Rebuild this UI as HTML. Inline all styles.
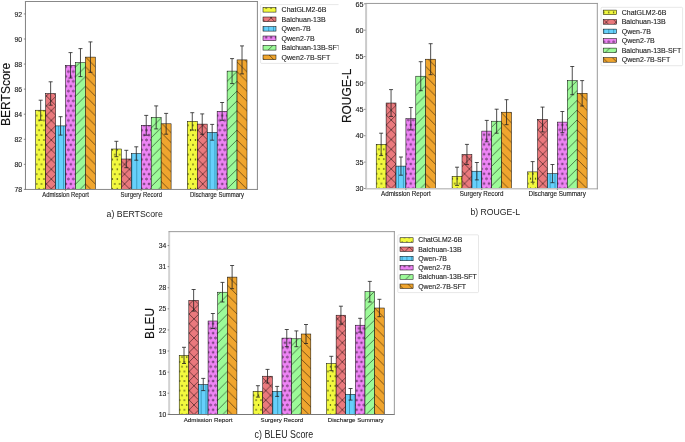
<!DOCTYPE html><html><head><meta charset="utf-8"><style>html,body{margin:0;padding:0;background:#fff;}svg{display:block;will-change:transform;}text{font-family:"Liberation Sans", sans-serif;}.s{fill:#222;stroke:#222;stroke-width:0.12px;}</style></head><body>
<svg width="685" height="442" viewBox="0 0 685 442"><defs>
<pattern id="pa0" patternUnits="userSpaceOnUse" x="46.4" y="164.4" width="4.885" height="9.77"><rect width="4.885" height="9.77" fill="#f2f93e"/><circle cx="0" cy="0" r="0.65" fill="#000"/><circle cx="4.885" cy="0" r="0.65" fill="#000"/><circle cx="0" cy="9.77" r="0.65" fill="#000"/><circle cx="4.885" cy="9.77" r="0.65" fill="#000"/><circle cx="2.442" cy="4.885" r="0.65" fill="#000"/></pattern><pattern id="pa1" patternUnits="userSpaceOnUse" x="46.4" y="164.4" width="9.77" height="9.77"><rect width="9.77" height="9.77" fill="#ea797d"/><path d="M-4.885,-4.885L14.655,14.655M-4.885,4.885L4.885,-4.885M4.885,14.655L14.655,4.885M-4.885,14.655L14.655,-4.885M-4.885,4.885L4.885,14.655M4.885,-4.885L14.655,4.885" stroke="#000" stroke-opacity="1" stroke-width="0.5"/></pattern><pattern id="pa2" patternUnits="userSpaceOnUse" x="46.4" y="164.4" width="4.885" height="4.885"><rect width="4.885" height="4.885" fill="#66d0fb"/><path d="M2.442,0V4.885" stroke="#0b5f7a" stroke-opacity="0.45" stroke-width="1.0"/></pattern><pattern id="pa3" patternUnits="userSpaceOnUse" x="46.4" y="164.4" width="4.885" height="9.77"><rect width="4.885" height="9.77" fill="#ee84f5"/><circle cx="0" cy="0" r="0.9" fill="none" stroke="#000" stroke-opacity="0.9" stroke-width="0.55"/><circle cx="4.885" cy="0" r="0.9" fill="none" stroke="#000" stroke-opacity="0.9" stroke-width="0.55"/><circle cx="0" cy="9.77" r="0.9" fill="none" stroke="#000" stroke-opacity="0.9" stroke-width="0.55"/><circle cx="4.885" cy="9.77" r="0.9" fill="none" stroke="#000" stroke-opacity="0.9" stroke-width="0.55"/><circle cx="2.442" cy="4.885" r="0.9" fill="none" stroke="#000" stroke-opacity="0.9" stroke-width="0.55"/></pattern><pattern id="pa4" patternUnits="userSpaceOnUse" x="46.4" y="164.4" width="9.77" height="9.77"><rect width="9.77" height="9.77" fill="#9cfa98"/><path d="M-4.885,4.885L4.885,-4.885M4.885,14.655L14.655,4.885M-4.885,14.655L14.655,-4.885" stroke="#000" stroke-opacity="1" stroke-width="0.5"/></pattern><pattern id="pa5" patternUnits="userSpaceOnUse" x="46.4" y="164.4" width="9.77" height="9.77"><rect width="9.77" height="9.77" fill="#f0a52e"/><path d="M-4.885,-4.885L14.655,14.655M-4.885,4.885L4.885,14.655M4.885,-4.885L14.655,4.885" stroke="#000" stroke-opacity="1" stroke-width="0.5"/></pattern>
<clipPath id="clipa"><rect x="0" y="0" width="338.5" height="230"/></clipPath>
<pattern id="pb0" patternUnits="userSpaceOnUse" x="386.3" y="164" width="4.89" height="9.78"><rect width="4.89" height="9.78" fill="#f2f93e"/><circle cx="0" cy="0" r="0.65" fill="#000"/><circle cx="4.89" cy="0" r="0.65" fill="#000"/><circle cx="0" cy="9.78" r="0.65" fill="#000"/><circle cx="4.89" cy="9.78" r="0.65" fill="#000"/><circle cx="2.445" cy="4.89" r="0.65" fill="#000"/></pattern><pattern id="pb1" patternUnits="userSpaceOnUse" x="386.3" y="164" width="9.78" height="9.78"><rect width="9.78" height="9.78" fill="#ea797d"/><path d="M-4.89,-4.89L14.67,14.67M-4.89,4.89L4.89,-4.89M4.89,14.67L14.67,4.89M-4.89,14.67L14.67,-4.89M-4.89,4.89L4.89,14.67M4.89,-4.89L14.67,4.89" stroke="#000" stroke-opacity="1" stroke-width="0.5"/></pattern><pattern id="pb2" patternUnits="userSpaceOnUse" x="386.3" y="164" width="4.89" height="4.89"><rect width="4.89" height="4.89" fill="#66d0fb"/><path d="M2.445,0V4.89" stroke="#0b5f7a" stroke-opacity="0.45" stroke-width="1.0"/></pattern><pattern id="pb3" patternUnits="userSpaceOnUse" x="386.3" y="164" width="4.89" height="9.78"><rect width="4.89" height="9.78" fill="#ee84f5"/><circle cx="0" cy="0" r="0.9" fill="none" stroke="#000" stroke-opacity="0.9" stroke-width="0.55"/><circle cx="4.89" cy="0" r="0.9" fill="none" stroke="#000" stroke-opacity="0.9" stroke-width="0.55"/><circle cx="0" cy="9.78" r="0.9" fill="none" stroke="#000" stroke-opacity="0.9" stroke-width="0.55"/><circle cx="4.89" cy="9.78" r="0.9" fill="none" stroke="#000" stroke-opacity="0.9" stroke-width="0.55"/><circle cx="2.445" cy="4.89" r="0.9" fill="none" stroke="#000" stroke-opacity="0.9" stroke-width="0.55"/></pattern><pattern id="pb4" patternUnits="userSpaceOnUse" x="386.3" y="164" width="9.78" height="9.78"><rect width="9.78" height="9.78" fill="#9cfa98"/><path d="M-4.89,4.89L4.89,-4.89M4.89,14.67L14.67,4.89M-4.89,14.67L14.67,-4.89" stroke="#000" stroke-opacity="1" stroke-width="0.5"/></pattern><pattern id="pb5" patternUnits="userSpaceOnUse" x="386.3" y="164" width="9.78" height="9.78"><rect width="9.78" height="9.78" fill="#f0a52e"/><path d="M-4.89,-4.89L14.67,14.67M-4.89,4.89L4.89,14.67M4.89,-4.89L14.67,4.89" stroke="#000" stroke-opacity="1" stroke-width="0.5"/></pattern>
<pattern id="pc0" patternUnits="userSpaceOnUse" x="189.2" y="390.6" width="4.785" height="9.57"><rect width="4.785" height="9.57" fill="#f2f93e"/><circle cx="0" cy="0" r="0.65" fill="#000"/><circle cx="4.785" cy="0" r="0.65" fill="#000"/><circle cx="0" cy="9.57" r="0.65" fill="#000"/><circle cx="4.785" cy="9.57" r="0.65" fill="#000"/><circle cx="2.393" cy="4.785" r="0.65" fill="#000"/></pattern><pattern id="pc1" patternUnits="userSpaceOnUse" x="189.2" y="390.6" width="9.57" height="9.57"><rect width="9.57" height="9.57" fill="#ea797d"/><path d="M-4.785,-4.785L14.355,14.355M-4.785,4.785L4.785,-4.785M4.785,14.355L14.355,4.785M-4.785,14.355L14.355,-4.785M-4.785,4.785L4.785,14.355M4.785,-4.785L14.355,4.785" stroke="#000" stroke-opacity="1" stroke-width="0.5"/></pattern><pattern id="pc2" patternUnits="userSpaceOnUse" x="189.2" y="390.6" width="4.785" height="4.785"><rect width="4.785" height="4.785" fill="#66d0fb"/><path d="M2.393,0V4.785" stroke="#0b5f7a" stroke-opacity="0.45" stroke-width="1.0"/></pattern><pattern id="pc3" patternUnits="userSpaceOnUse" x="189.2" y="390.6" width="4.785" height="9.57"><rect width="4.785" height="9.57" fill="#ee84f5"/><circle cx="0" cy="0" r="0.9" fill="none" stroke="#000" stroke-opacity="0.9" stroke-width="0.55"/><circle cx="4.785" cy="0" r="0.9" fill="none" stroke="#000" stroke-opacity="0.9" stroke-width="0.55"/><circle cx="0" cy="9.57" r="0.9" fill="none" stroke="#000" stroke-opacity="0.9" stroke-width="0.55"/><circle cx="4.785" cy="9.57" r="0.9" fill="none" stroke="#000" stroke-opacity="0.9" stroke-width="0.55"/><circle cx="2.393" cy="4.785" r="0.9" fill="none" stroke="#000" stroke-opacity="0.9" stroke-width="0.55"/></pattern><pattern id="pc4" patternUnits="userSpaceOnUse" x="189.2" y="390.6" width="9.57" height="9.57"><rect width="9.57" height="9.57" fill="#9cfa98"/><path d="M-4.785,4.785L4.785,-4.785M4.785,14.355L14.355,4.785M-4.785,14.355L14.355,-4.785" stroke="#000" stroke-opacity="1" stroke-width="0.5"/></pattern><pattern id="pc5" patternUnits="userSpaceOnUse" x="189.2" y="390.6" width="9.57" height="9.57"><rect width="9.57" height="9.57" fill="#f0a52e"/><path d="M-4.785,-4.785L14.355,14.355M-4.785,4.785L4.785,14.355M4.785,-4.785L14.355,4.785" stroke="#000" stroke-opacity="1" stroke-width="0.5"/></pattern>
</defs><rect width="685" height="442" fill="#fff"/>
<g id="charta" clip-path="url(#clipa)"><rect x="35.7" y="110.2" width="9.95" height="79.2" fill="url(#pa0)" stroke="#000" stroke-width="0.5"/><rect x="45.65" y="93.5" width="9.95" height="95.9" fill="url(#pa1)" stroke="#000" stroke-width="0.5"/><rect x="55.6" y="125.9" width="9.95" height="63.5" fill="url(#pa2)" stroke="#000" stroke-width="0.5"/><rect x="65.55" y="65.3" width="9.95" height="124.1" fill="url(#pa3)" stroke="#000" stroke-width="0.5"/><rect x="75.5" y="62.6" width="9.95" height="126.8" fill="url(#pa4)" stroke="#000" stroke-width="0.5"/><rect x="85.45" y="57.1" width="9.95" height="132.3" fill="url(#pa5)" stroke="#000" stroke-width="0.5"/><rect x="111.4" y="149" width="9.95" height="40.4" fill="url(#pa0)" stroke="#000" stroke-width="0.5"/><rect x="121.35" y="159" width="9.95" height="30.4" fill="url(#pa1)" stroke="#000" stroke-width="0.5"/><rect x="131.3" y="153.5" width="9.95" height="35.9" fill="url(#pa2)" stroke="#000" stroke-width="0.5"/><rect x="141.25" y="125.3" width="9.95" height="64.1" fill="url(#pa3)" stroke="#000" stroke-width="0.5"/><rect x="151.2" y="117.4" width="9.95" height="72" fill="url(#pa4)" stroke="#000" stroke-width="0.5"/><rect x="161.15" y="123.8" width="9.95" height="65.6" fill="url(#pa5)" stroke="#000" stroke-width="0.5"/><rect x="187.3" y="121.4" width="9.95" height="68" fill="url(#pa0)" stroke="#000" stroke-width="0.5"/><rect x="197.25" y="124.1" width="9.95" height="65.3" fill="url(#pa1)" stroke="#000" stroke-width="0.5"/><rect x="207.2" y="132.3" width="9.95" height="57.1" fill="url(#pa2)" stroke="#000" stroke-width="0.5"/><rect x="217.15" y="111.4" width="9.95" height="78" fill="url(#pa3)" stroke="#000" stroke-width="0.5"/><rect x="227.1" y="71.1" width="9.95" height="118.3" fill="url(#pa4)" stroke="#000" stroke-width="0.5"/><rect x="237.05" y="59.9" width="9.95" height="129.5" fill="url(#pa5)" stroke="#000" stroke-width="0.5"/><path d="M40.675,100.2V120.2M38.675,100.2H42.675M38.675,120.2H42.675" stroke="#222" stroke-width="0.8" fill="none"/><path d="M50.625,81.8V105.2M48.625,81.8H52.625M48.625,105.2H52.625" stroke="#222" stroke-width="0.8" fill="none"/><path d="M60.575,116.7V135.1M58.575,116.7H62.575M58.575,135.1H62.575" stroke="#222" stroke-width="0.8" fill="none"/><path d="M70.525,52.6V78M68.525,52.6H72.525M68.525,78H72.525" stroke="#222" stroke-width="0.8" fill="none"/><path d="M80.475,48.6V76.6M78.475,48.6H82.475M78.475,76.6H82.475" stroke="#222" stroke-width="0.8" fill="none"/><path d="M90.425,41.9V72.3M88.425,41.9H92.425M88.425,72.3H92.425" stroke="#222" stroke-width="0.8" fill="none"/><path d="M116.375,141.3V156.7M114.375,141.3H118.375M114.375,156.7H118.375" stroke="#222" stroke-width="0.8" fill="none"/><path d="M126.325,150.3V167.7M124.325,150.3H128.325M124.325,167.7H128.325" stroke="#222" stroke-width="0.8" fill="none"/><path d="M136.275,146.8V160.2M134.275,146.8H138.275M134.275,160.2H138.275" stroke="#222" stroke-width="0.8" fill="none"/><path d="M146.225,115.4V135.2M144.225,115.4H148.225M144.225,135.2H148.225" stroke="#222" stroke-width="0.8" fill="none"/><path d="M156.175,105.9V128.9M154.175,105.9H158.175M154.175,128.9H158.175" stroke="#222" stroke-width="0.8" fill="none"/><path d="M166.125,113.4V134.2M164.125,113.4H168.125M164.125,134.2H168.125" stroke="#222" stroke-width="0.8" fill="none"/><path d="M192.275,112.7V130.1M190.275,112.7H194.275M190.275,130.1H194.275" stroke="#222" stroke-width="0.8" fill="none"/><path d="M202.225,113.9V134.3M200.225,113.9H204.225M200.225,134.3H204.225" stroke="#222" stroke-width="0.8" fill="none"/><path d="M212.175,124.4V140.2M210.175,124.4H214.175M210.175,140.2H214.175" stroke="#222" stroke-width="0.8" fill="none"/><path d="M222.125,102.5V120.3M220.125,102.5H224.125M220.125,120.3H224.125" stroke="#222" stroke-width="0.8" fill="none"/><path d="M232.075,58.6V83.6M230.075,58.6H234.075M230.075,83.6H234.075" stroke="#222" stroke-width="0.8" fill="none"/><path d="M242.025,45.9V73.9M240.025,45.9H244.025M240.025,73.9H244.025" stroke="#222" stroke-width="0.8" fill="none"/><path d="M25.45,1.05V189.95" stroke="#808080" stroke-width="1.0"/><path d="M24.95,189.45H257.9" stroke="#888" stroke-width="1.0"/><path d="M24.95,1.55H257.9" stroke="#888" stroke-width="1.1"/><path d="M257.4,1.05V189.95" stroke="#888" stroke-width="1.0"/><path d="M23.8,189.4H25.3" stroke="#444" stroke-width="0.6"/><text x="22.2" y="192.015" font-size="6.9" text-anchor="end" class="s">78</text><path d="M23.8,164.333H25.3" stroke="#444" stroke-width="0.6"/><text x="22.2" y="166.948" font-size="6.9" text-anchor="end" class="s">80</text><path d="M23.8,139.267H25.3" stroke="#444" stroke-width="0.6"/><text x="22.2" y="141.882" font-size="6.9" text-anchor="end" class="s">82</text><path d="M23.8,114.2H25.3" stroke="#444" stroke-width="0.6"/><text x="22.2" y="116.815" font-size="6.9" text-anchor="end" class="s">84</text><path d="M23.8,89.133H25.3" stroke="#444" stroke-width="0.6"/><text x="22.2" y="91.748" font-size="6.9" text-anchor="end" class="s">86</text><path d="M23.8,64.067H25.3" stroke="#444" stroke-width="0.6"/><text x="22.2" y="66.682" font-size="6.9" text-anchor="end" class="s">88</text><path d="M23.8,39H25.3" stroke="#444" stroke-width="0.6"/><text x="22.2" y="41.615" font-size="6.9" text-anchor="end" class="s">90</text><path d="M23.8,13.933H25.3" stroke="#444" stroke-width="0.6"/><text x="22.2" y="16.548" font-size="6.9" text-anchor="end" class="s">92</text><path d="M65.55,189.4V190.9" stroke="#444" stroke-width="0.6"/><text x="65.5" y="196.7" font-size="6.4" text-anchor="middle" textLength="46.6" lengthAdjust="spacingAndGlyphs" class="s">Admission Report</text><path d="M141.25,189.4V190.9" stroke="#444" stroke-width="0.6"/><text x="141.3" y="196.7" font-size="6.4" text-anchor="middle" textLength="41.4" lengthAdjust="spacingAndGlyphs" class="s">Surgery Record</text><path d="M217.15,189.4V190.9" stroke="#444" stroke-width="0.6"/><text x="217" y="196.7" font-size="6.4" text-anchor="middle" textLength="54" lengthAdjust="spacingAndGlyphs" class="s">Discharge Summary</text><text transform="translate(9.8,94.35) rotate(-90)" font-size="12.9" text-anchor="middle" textLength="63.3" lengthAdjust="spacingAndGlyphs" fill="#111" stroke="#111" stroke-width="0.15">BERTScore</text><text x="134.7" y="216.9" font-size="9.3" text-anchor="middle" textLength="56.2" lengthAdjust="spacingAndGlyphs" fill="#222">a) BERTScore</text><rect x="260.6" y="4.6" width="84.4" height="58.8" rx="1" fill="#fff" fill-opacity="0.8" stroke="#d6d6d6" stroke-width="0.6"/><rect x="263" y="7.5" width="13" height="4.6" fill="url(#pa0)" stroke="#000" stroke-width="0.5"/><text x="281.6" y="12.32" font-size="7.0" class="s">ChatGLM2-6B</text><rect x="263" y="17" width="13" height="4.6" fill="url(#pa1)" stroke="#000" stroke-width="0.5"/><text x="281.6" y="21.82" font-size="7.0" class="s">Baichuan-13B</text><rect x="263" y="26.5" width="13" height="4.6" fill="url(#pa2)" stroke="#000" stroke-width="0.5"/><text x="281.6" y="31.32" font-size="7.0" class="s">Qwen-7B</text><rect x="263" y="36" width="13" height="4.6" fill="url(#pa3)" stroke="#000" stroke-width="0.5"/><text x="281.6" y="40.82" font-size="7.0" class="s">Qwen2-7B</text><rect x="263" y="45.5" width="13" height="4.6" fill="url(#pa4)" stroke="#000" stroke-width="0.5"/><text x="281.6" y="50.32" font-size="7.0" class="s">Baichuan-13B-SFT</text><rect x="263" y="55" width="13" height="4.6" fill="url(#pa5)" stroke="#000" stroke-width="0.5"/><text x="281.6" y="59.82" font-size="7.0" class="s">Qwen2-7B-SFT</text></g>
<g id="chartb"><rect x="376.2" y="144.4" width="9.9" height="44.1" fill="url(#pb0)" stroke="#000" stroke-width="0.5"/><rect x="386.1" y="103" width="9.9" height="85.5" fill="url(#pb1)" stroke="#000" stroke-width="0.5"/><rect x="396" y="166.1" width="9.9" height="22.4" fill="url(#pb2)" stroke="#000" stroke-width="0.5"/><rect x="405.9" y="118.7" width="9.9" height="69.8" fill="url(#pb3)" stroke="#000" stroke-width="0.5"/><rect x="415.8" y="76.2" width="9.9" height="112.3" fill="url(#pb4)" stroke="#000" stroke-width="0.5"/><rect x="425.7" y="59.2" width="9.9" height="129.3" fill="url(#pb5)" stroke="#000" stroke-width="0.5"/><rect x="452.1" y="176.3" width="9.9" height="12.2" fill="url(#pb0)" stroke="#000" stroke-width="0.5"/><rect x="462" y="154.5" width="9.9" height="34" fill="url(#pb1)" stroke="#000" stroke-width="0.5"/><rect x="471.9" y="171.2" width="9.9" height="17.3" fill="url(#pb2)" stroke="#000" stroke-width="0.5"/><rect x="481.8" y="131.1" width="9.9" height="57.4" fill="url(#pb3)" stroke="#000" stroke-width="0.5"/><rect x="491.7" y="121.2" width="9.9" height="67.3" fill="url(#pb4)" stroke="#000" stroke-width="0.5"/><rect x="501.6" y="112.2" width="9.9" height="76.3" fill="url(#pb5)" stroke="#000" stroke-width="0.5"/><rect x="527.7" y="171.9" width="9.9" height="16.6" fill="url(#pb0)" stroke="#000" stroke-width="0.5"/><rect x="537.6" y="119.5" width="9.9" height="69" fill="url(#pb1)" stroke="#000" stroke-width="0.5"/><rect x="547.5" y="173.6" width="9.9" height="14.9" fill="url(#pb2)" stroke="#000" stroke-width="0.5"/><rect x="557.4" y="122.1" width="9.9" height="66.4" fill="url(#pb3)" stroke="#000" stroke-width="0.5"/><rect x="567.3" y="80.6" width="9.9" height="107.9" fill="url(#pb4)" stroke="#000" stroke-width="0.5"/><rect x="577.2" y="93.3" width="9.9" height="95.2" fill="url(#pb5)" stroke="#000" stroke-width="0.5"/><path d="M381.15,133.2V155.6M379.15,133.2H383.15M379.15,155.6H383.15" stroke="#222" stroke-width="0.8" fill="none"/><path d="M391.05,89.6V116.4M389.05,89.6H393.05M389.05,116.4H393.05" stroke="#222" stroke-width="0.8" fill="none"/><path d="M400.95,157V175.2M398.95,157H402.95M398.95,175.2H402.95" stroke="#222" stroke-width="0.8" fill="none"/><path d="M410.85,107.5V129.9M408.85,107.5H412.85M408.85,129.9H412.85" stroke="#222" stroke-width="0.8" fill="none"/><path d="M420.75,61.7V90.7M418.75,61.7H422.75M418.75,90.7H422.75" stroke="#222" stroke-width="0.8" fill="none"/><path d="M430.65,43.7V74.7M428.65,43.7H432.65M428.65,74.7H432.65" stroke="#222" stroke-width="0.8" fill="none"/><path d="M457.05,167.2V185.4M455.05,167.2H459.05M455.05,185.4H459.05" stroke="#222" stroke-width="0.8" fill="none"/><path d="M466.95,144.4V164.6M464.95,144.4H468.95M464.95,164.6H468.95" stroke="#222" stroke-width="0.8" fill="none"/><path d="M476.85,162.5V179.9M474.85,162.5H478.85M474.85,179.9H478.85" stroke="#222" stroke-width="0.8" fill="none"/><path d="M486.75,120.4V141.8M484.75,120.4H488.75M484.75,141.8H488.75" stroke="#222" stroke-width="0.8" fill="none"/><path d="M496.65,109.2V133.2M494.65,109.2H498.65M494.65,133.2H498.65" stroke="#222" stroke-width="0.8" fill="none"/><path d="M506.55,99.7V124.7M504.55,99.7H508.55M504.55,124.7H508.55" stroke="#222" stroke-width="0.8" fill="none"/><path d="M532.65,161.6V182.2M530.65,161.6H534.65M530.65,182.2H534.65" stroke="#222" stroke-width="0.8" fill="none"/><path d="M542.55,107.1V131.9M540.55,107.1H544.55M540.55,131.9H544.55" stroke="#222" stroke-width="0.8" fill="none"/><path d="M552.45,164.5V182.7M550.45,164.5H554.45M550.45,182.7H554.45" stroke="#222" stroke-width="0.8" fill="none"/><path d="M562.35,111.5V132.7M560.35,111.5H564.35M560.35,132.7H564.35" stroke="#222" stroke-width="0.8" fill="none"/><path d="M572.25,66.5V94.7M570.25,66.5H574.25M570.25,94.7H574.25" stroke="#222" stroke-width="0.8" fill="none"/><path d="M582.15,80.6V106M580.15,80.6H584.15M580.15,106H584.15" stroke="#222" stroke-width="0.8" fill="none"/><path d="M366.1,2.95V189.25" stroke="#cacaca" stroke-width="2.0"/><path d="M365.6,188.75H597.8" stroke="#c4c4c4" stroke-width="1.5"/><path d="M365.6,3.45H597.8" stroke="#999" stroke-width="1.0"/><path d="M597.3,2.95V189.25" stroke="#999" stroke-width="1.0"/><path d="M364,188.5H365.5" stroke="#444" stroke-width="0.6"/><text x="363.4" y="191.22" font-size="7.2" text-anchor="end" class="s">30</text><path d="M364,162.114H365.5" stroke="#444" stroke-width="0.6"/><text x="363.4" y="164.834" font-size="7.2" text-anchor="end" class="s">35</text><path d="M364,135.729H365.5" stroke="#444" stroke-width="0.6"/><text x="363.4" y="138.449" font-size="7.2" text-anchor="end" class="s">40</text><path d="M364,109.343H365.5" stroke="#444" stroke-width="0.6"/><text x="363.4" y="112.063" font-size="7.2" text-anchor="end" class="s">45</text><path d="M364,82.957H365.5" stroke="#444" stroke-width="0.6"/><text x="363.4" y="85.677" font-size="7.2" text-anchor="end" class="s">50</text><path d="M364,56.571H365.5" stroke="#444" stroke-width="0.6"/><text x="363.4" y="59.291" font-size="7.2" text-anchor="end" class="s">55</text><path d="M364,30.186H365.5" stroke="#444" stroke-width="0.6"/><text x="363.4" y="32.906" font-size="7.2" text-anchor="end" class="s">60</text><path d="M364,3.8H365.5" stroke="#444" stroke-width="0.6"/><text x="363.4" y="6.52" font-size="7.2" text-anchor="end" class="s">65</text><path d="M405.9,188.5V190" stroke="#444" stroke-width="0.6"/><text x="405.85" y="196" font-size="6.3" text-anchor="middle" textLength="49.7" lengthAdjust="spacingAndGlyphs" class="s">Admission Report</text><path d="M481.8,188.5V190" stroke="#444" stroke-width="0.6"/><text x="481.6" y="196" font-size="6.3" text-anchor="middle" textLength="43.6" lengthAdjust="spacingAndGlyphs" class="s">Surgery Record</text><path d="M557.4,188.5V190" stroke="#444" stroke-width="0.6"/><text x="557.25" y="196" font-size="6.3" text-anchor="middle" textLength="57.3" lengthAdjust="spacingAndGlyphs" class="s">Discharge Summary</text><text transform="translate(351.4,95.85) rotate(-90)" font-size="13.4" text-anchor="middle" textLength="54.5" lengthAdjust="spacingAndGlyphs" fill="#111" stroke="#111" stroke-width="0.15">ROUGE-L</text><text x="495.25" y="214.6" font-size="9.6" text-anchor="middle" textLength="49.7" lengthAdjust="spacingAndGlyphs" fill="#222">b) ROUGE-L</text><rect x="601.1" y="7.3" width="81.5" height="58.4" rx="1" fill="#fff" fill-opacity="0.8" stroke="#d6d6d6" stroke-width="0.6"/><rect x="603.2" y="10.1" width="13.4" height="4.6" fill="url(#pb0)" stroke="#000" stroke-width="0.5"/><text x="621.7" y="14.92" font-size="7.0" class="s">ChatGLM2-6B</text><rect x="603.2" y="19.6" width="13.4" height="4.6" fill="url(#pb1)" stroke="#000" stroke-width="0.5"/><text x="621.7" y="24.42" font-size="7.0" class="s">Baichuan-13B</text><rect x="603.2" y="29.1" width="13.4" height="4.6" fill="url(#pb2)" stroke="#000" stroke-width="0.5"/><text x="621.7" y="33.92" font-size="7.0" class="s">Qwen-7B</text><rect x="603.2" y="38.6" width="13.4" height="4.6" fill="url(#pb3)" stroke="#000" stroke-width="0.5"/><text x="621.7" y="43.42" font-size="7.0" class="s">Qwen2-7B</text><rect x="603.2" y="48.1" width="13.4" height="4.6" fill="url(#pb4)" stroke="#000" stroke-width="0.5"/><text x="621.7" y="52.92" font-size="7.0" class="s">Baichuan-13B-SFT</text><rect x="603.2" y="57.6" width="13.4" height="4.6" fill="url(#pb5)" stroke="#000" stroke-width="0.5"/><text x="621.7" y="62.42" font-size="7.0" class="s">Qwen2-7B-SFT</text></g>
<g id="chartc"><rect x="179.2" y="355.4" width="9.62" height="58.9" fill="url(#pc0)" stroke="#000" stroke-width="0.5"/><rect x="188.82" y="300.3" width="9.62" height="114" fill="url(#pc1)" stroke="#000" stroke-width="0.5"/><rect x="198.44" y="384.5" width="9.62" height="29.8" fill="url(#pc2)" stroke="#000" stroke-width="0.5"/><rect x="208.06" y="321" width="9.62" height="93.3" fill="url(#pc3)" stroke="#000" stroke-width="0.5"/><rect x="217.68" y="292.2" width="9.62" height="122.1" fill="url(#pc4)" stroke="#000" stroke-width="0.5"/><rect x="227.3" y="277.1" width="9.62" height="137.2" fill="url(#pc5)" stroke="#000" stroke-width="0.5"/><rect x="253.1" y="391.4" width="9.62" height="22.9" fill="url(#pc0)" stroke="#000" stroke-width="0.5"/><rect x="262.72" y="376.2" width="9.62" height="38.1" fill="url(#pc1)" stroke="#000" stroke-width="0.5"/><rect x="272.34" y="391.4" width="9.62" height="22.9" fill="url(#pc2)" stroke="#000" stroke-width="0.5"/><rect x="281.96" y="338.1" width="9.62" height="76.2" fill="url(#pc3)" stroke="#000" stroke-width="0.5"/><rect x="291.58" y="338.8" width="9.62" height="75.5" fill="url(#pc4)" stroke="#000" stroke-width="0.5"/><rect x="301.2" y="334" width="9.62" height="80.3" fill="url(#pc5)" stroke="#000" stroke-width="0.5"/><rect x="326.5" y="363.5" width="9.62" height="50.8" fill="url(#pc0)" stroke="#000" stroke-width="0.5"/><rect x="336.12" y="315.2" width="9.62" height="99.1" fill="url(#pc1)" stroke="#000" stroke-width="0.5"/><rect x="345.74" y="394.3" width="9.62" height="20" fill="url(#pc2)" stroke="#000" stroke-width="0.5"/><rect x="355.36" y="325.2" width="9.62" height="89.1" fill="url(#pc3)" stroke="#000" stroke-width="0.5"/><rect x="364.98" y="291.7" width="9.62" height="122.6" fill="url(#pc4)" stroke="#000" stroke-width="0.5"/><rect x="374.6" y="308" width="9.62" height="106.3" fill="url(#pc5)" stroke="#000" stroke-width="0.5"/><path d="M184.01,347.3V363.5M182.01,347.3H186.01M182.01,363.5H186.01" stroke="#222" stroke-width="0.8" fill="none"/><path d="M193.63,289.5V311.1M191.63,289.5H195.63M191.63,311.1H195.63" stroke="#222" stroke-width="0.8" fill="none"/><path d="M203.25,378.4V390.6M201.25,378.4H205.25M201.25,390.6H205.25" stroke="#222" stroke-width="0.8" fill="none"/><path d="M212.87,313.5V328.5M210.87,313.5H214.87M210.87,328.5H214.87" stroke="#222" stroke-width="0.8" fill="none"/><path d="M222.49,282.4V302M220.49,282.4H224.49M220.49,302H224.49" stroke="#222" stroke-width="0.8" fill="none"/><path d="M232.11,265.5V288.7M230.11,265.5H234.11M230.11,288.7H234.11" stroke="#222" stroke-width="0.8" fill="none"/><path d="M257.91,385.7V397.1M255.91,385.7H259.91M255.91,397.1H259.91" stroke="#222" stroke-width="0.8" fill="none"/><path d="M267.53,369.4V383M265.53,369.4H269.53M265.53,383H269.53" stroke="#222" stroke-width="0.8" fill="none"/><path d="M277.15,386.4V396.4M275.15,386.4H279.15M275.15,396.4H279.15" stroke="#222" stroke-width="0.8" fill="none"/><path d="M286.77,329.5V346.7M284.77,329.5H288.77M284.77,346.7H288.77" stroke="#222" stroke-width="0.8" fill="none"/><path d="M296.39,330.9V346.7M294.39,330.9H298.39M294.39,346.7H298.39" stroke="#222" stroke-width="0.8" fill="none"/><path d="M306.01,324.5V343.5M304.01,324.5H308.01M304.01,343.5H308.01" stroke="#222" stroke-width="0.8" fill="none"/><path d="M331.31,356.3V370.7M329.31,356.3H333.31M329.31,370.7H333.31" stroke="#222" stroke-width="0.8" fill="none"/><path d="M340.93,306.2V324.2M338.93,306.2H342.93M338.93,324.2H342.93" stroke="#222" stroke-width="0.8" fill="none"/><path d="M350.55,388.5V400.1M348.55,388.5H352.55M348.55,400.1H352.55" stroke="#222" stroke-width="0.8" fill="none"/><path d="M360.17,318.3V332.1M358.17,318.3H362.17M358.17,332.1H362.17" stroke="#222" stroke-width="0.8" fill="none"/><path d="M369.79,281.4V302M367.79,281.4H371.79M367.79,302H371.79" stroke="#222" stroke-width="0.8" fill="none"/><path d="M379.41,299.3V316.7M377.41,299.3H381.41M377.41,316.7H381.41" stroke="#222" stroke-width="0.8" fill="none"/><path d="M169.15,231.15V415" stroke="#d2d2d2" stroke-width="2.0"/><path d="M168.65,414.5H394.85" stroke="#777" stroke-width="1.0"/><path d="M168.65,231.65H394.85" stroke="#999" stroke-width="1.0"/><path d="M394.35,231.15V415" stroke="#999" stroke-width="1.0"/><path d="M167.6,414.3H169.1" stroke="#444" stroke-width="0.6"/><text x="166.3" y="416.88" font-size="6.8" text-anchor="end" class="s">10</text><path d="M167.6,393.208H169.1" stroke="#444" stroke-width="0.6"/><text x="166.3" y="395.788" font-size="6.8" text-anchor="end" class="s">13</text><path d="M167.6,372.115H169.1" stroke="#444" stroke-width="0.6"/><text x="166.3" y="374.695" font-size="6.8" text-anchor="end" class="s">16</text><path d="M167.6,351.023H169.1" stroke="#444" stroke-width="0.6"/><text x="166.3" y="353.603" font-size="6.8" text-anchor="end" class="s">19</text><path d="M167.6,329.931H169.1" stroke="#444" stroke-width="0.6"/><text x="166.3" y="332.511" font-size="6.8" text-anchor="end" class="s">22</text><path d="M167.6,308.838H169.1" stroke="#444" stroke-width="0.6"/><text x="166.3" y="311.418" font-size="6.8" text-anchor="end" class="s">25</text><path d="M167.6,287.746H169.1" stroke="#444" stroke-width="0.6"/><text x="166.3" y="290.326" font-size="6.8" text-anchor="end" class="s">28</text><path d="M167.6,266.654H169.1" stroke="#444" stroke-width="0.6"/><text x="166.3" y="269.234" font-size="6.8" text-anchor="end" class="s">31</text><path d="M167.6,245.562H169.1" stroke="#444" stroke-width="0.6"/><text x="166.3" y="248.142" font-size="6.8" text-anchor="end" class="s">34</text><path d="M208.06,414.3V415.8" stroke="#444" stroke-width="0.6"/><text x="208.1" y="421.7" font-size="6.2" text-anchor="middle" textLength="48.8" lengthAdjust="spacingAndGlyphs" class="s">Admission Report</text><path d="M281.96,414.3V415.8" stroke="#444" stroke-width="0.6"/><text x="281.9" y="421.7" font-size="6.2" text-anchor="middle" textLength="42.6" lengthAdjust="spacingAndGlyphs" class="s">Surgery Record</text><path d="M355.36,414.3V415.8" stroke="#444" stroke-width="0.6"/><text x="355.7" y="421.7" font-size="6.2" text-anchor="middle" textLength="56" lengthAdjust="spacingAndGlyphs" class="s">Discharge Summary</text><text transform="translate(153.8,323.5) rotate(-90)" font-size="11.9" text-anchor="middle" textLength="30.8" lengthAdjust="spacingAndGlyphs" fill="#111" stroke="#111" stroke-width="0.15">BLEU</text><text x="283.9" y="438.4" font-size="10.0" text-anchor="middle" textLength="58.6" lengthAdjust="spacingAndGlyphs" fill="#222">c) BLEU Score</text><rect x="397.8" y="234.8" width="80.7" height="57.8" rx="1" fill="#fff" fill-opacity="0.8" stroke="#d6d6d6" stroke-width="0.6"/><rect x="400" y="237.75" width="13.1" height="4.5" fill="url(#pc0)" stroke="#000" stroke-width="0.5"/><text x="418.2" y="242.484" font-size="6.9" class="s">ChatGLM2-6B</text><rect x="400" y="247" width="13.1" height="4.5" fill="url(#pc1)" stroke="#000" stroke-width="0.5"/><text x="418.2" y="251.734" font-size="6.9" class="s">Baichuan-13B</text><rect x="400" y="256.25" width="13.1" height="4.5" fill="url(#pc2)" stroke="#000" stroke-width="0.5"/><text x="418.2" y="260.984" font-size="6.9" class="s">Qwen-7B</text><rect x="400" y="265.5" width="13.1" height="4.5" fill="url(#pc3)" stroke="#000" stroke-width="0.5"/><text x="418.2" y="270.234" font-size="6.9" class="s">Qwen2-7B</text><rect x="400" y="274.75" width="13.1" height="4.5" fill="url(#pc4)" stroke="#000" stroke-width="0.5"/><text x="418.2" y="279.484" font-size="6.9" class="s">Baichuan-13B-SFT</text><rect x="400" y="284" width="13.1" height="4.5" fill="url(#pc5)" stroke="#000" stroke-width="0.5"/><text x="418.2" y="288.734" font-size="6.9" class="s">Qwen2-7B-SFT</text></g>
</svg></body></html>
